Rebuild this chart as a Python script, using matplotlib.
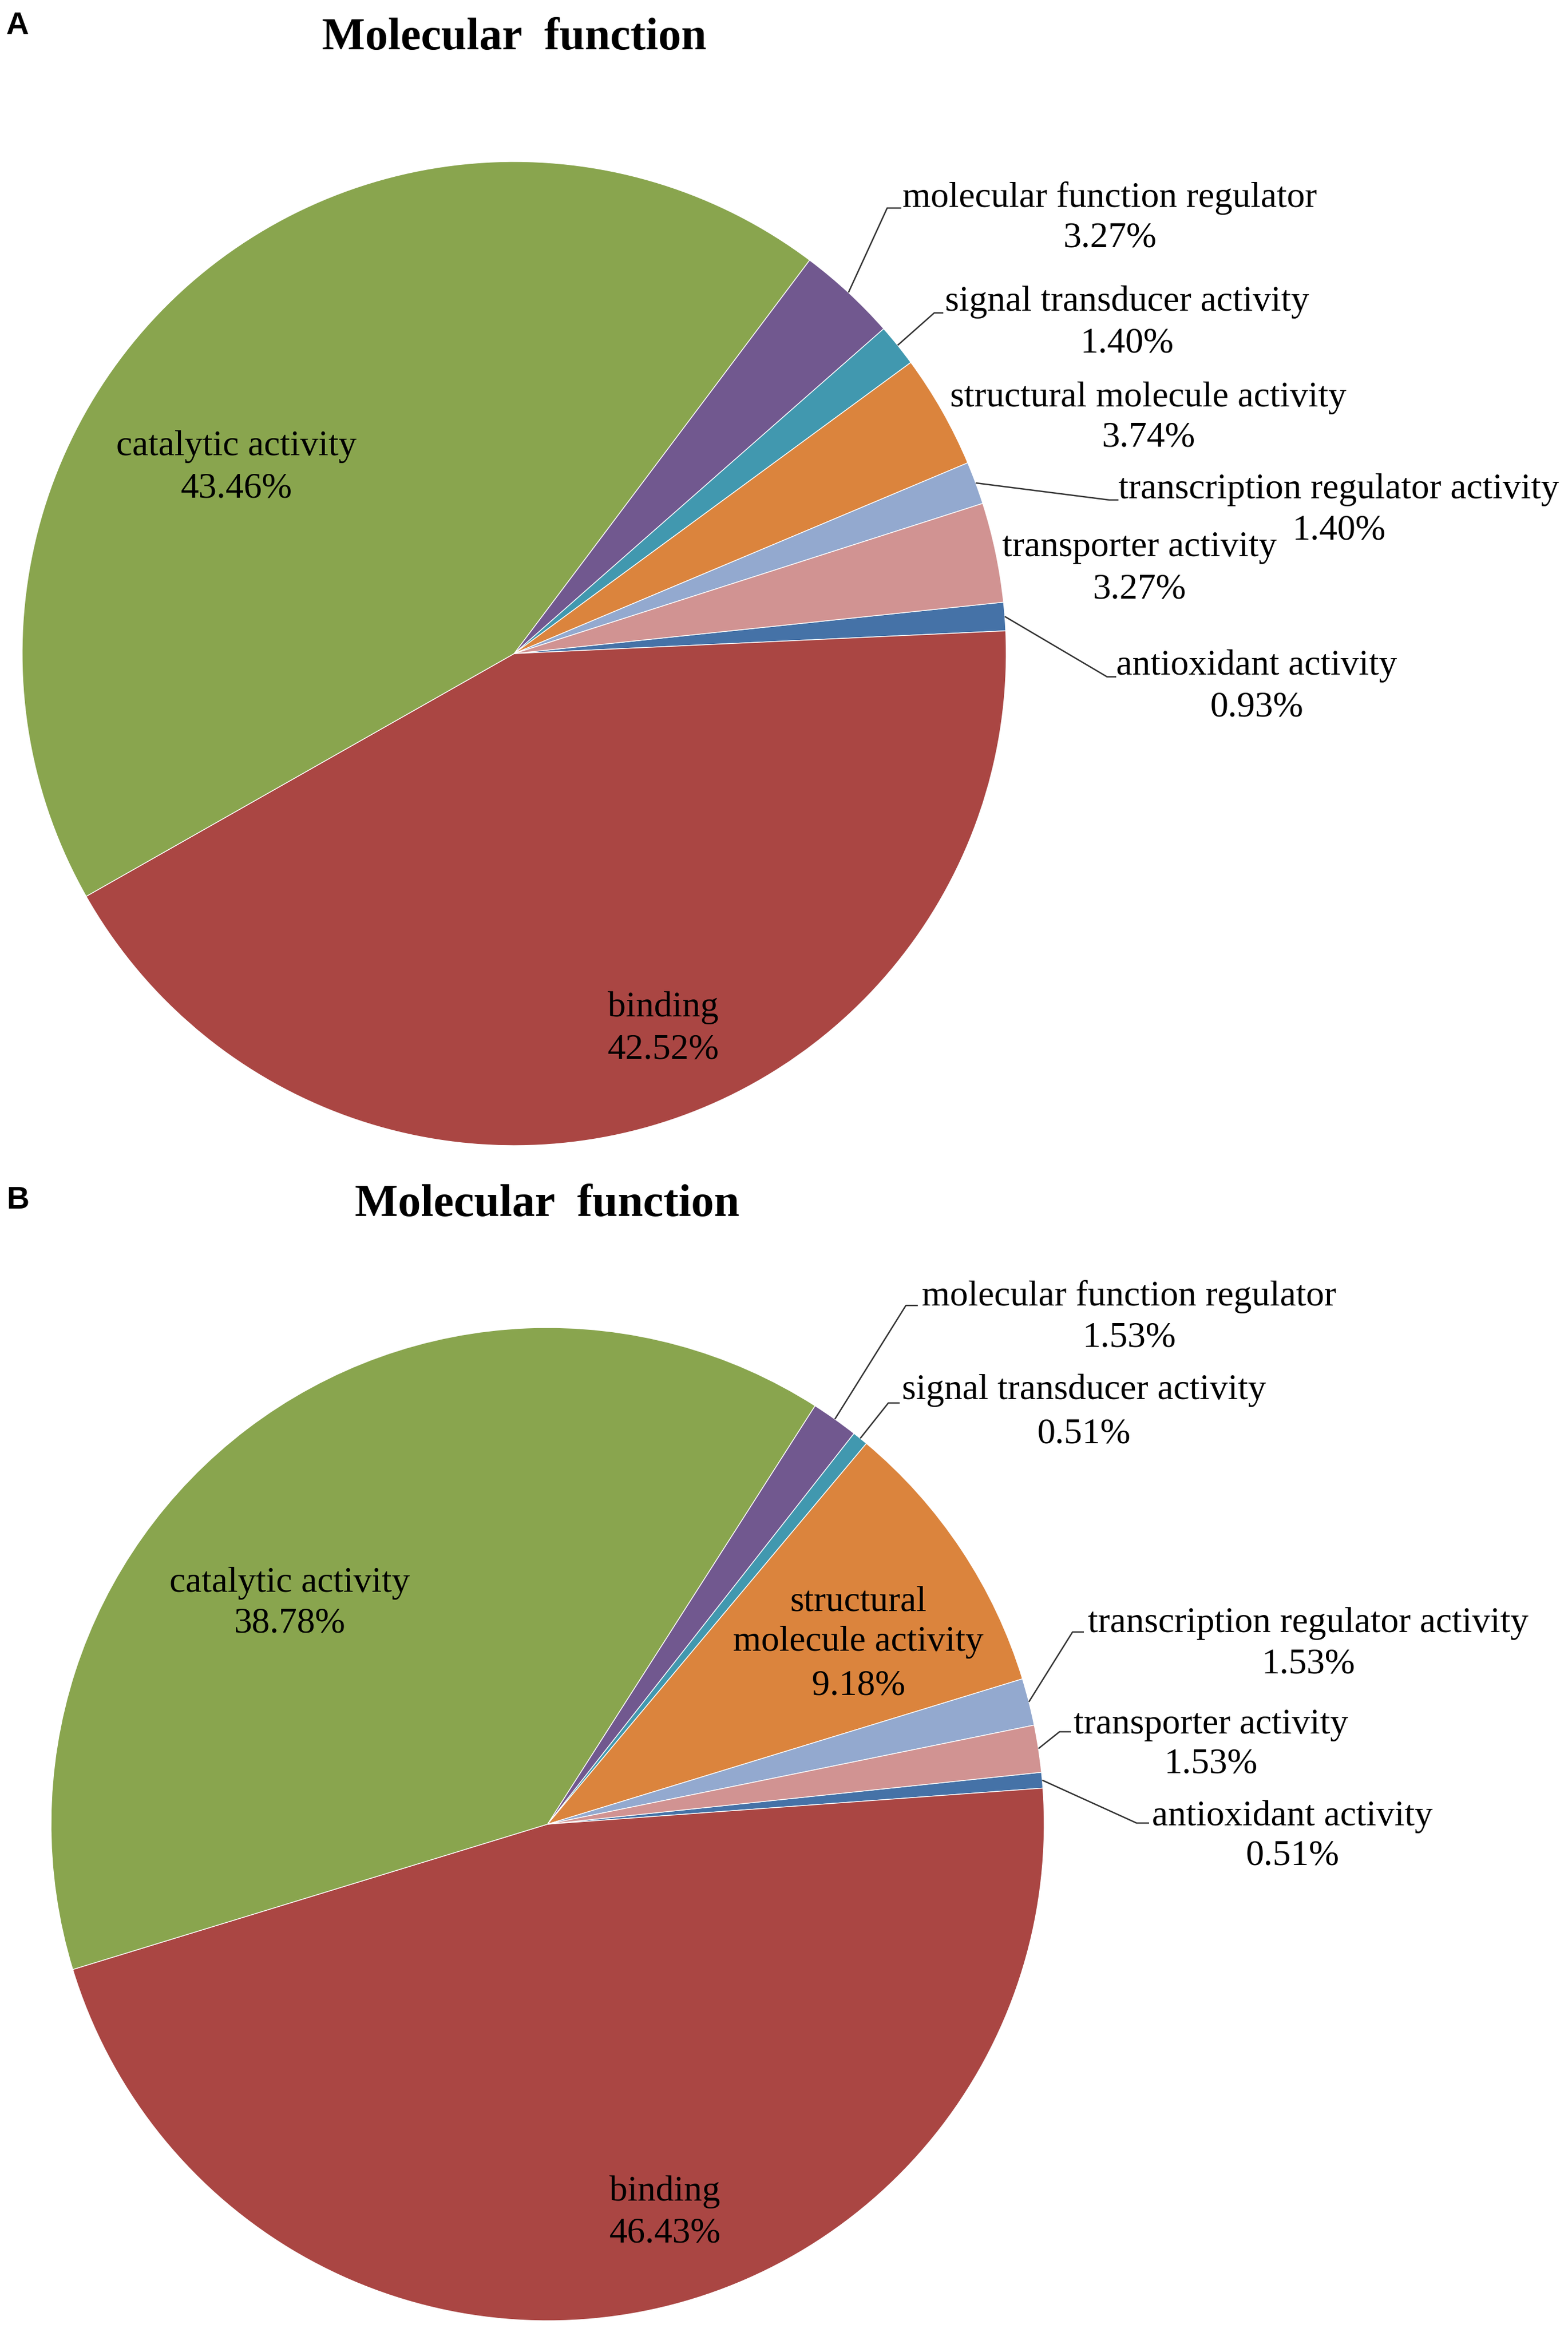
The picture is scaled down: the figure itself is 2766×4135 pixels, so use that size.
import matplotlib
matplotlib.use("Agg")
import matplotlib.pyplot as plt
import numpy as np

W, H = 2766, 4135

# ---------------- data ----------------
categories = ["antioxidant activity", "binding", "catalytic activity",
              "molecular function regulator", "signal transducer activity",
              "structural molecule activity", "transcription regulator activity",
              "transporter activity"]
values_A = [0.93, 42.52, 43.46, 3.27, 1.40, 3.74, 1.40, 3.27]
values_B = [0.51, 46.43, 38.78, 1.53, 0.51, 9.18, 1.53, 1.53]
colors = ["#4572A7", "#AA4643", "#89A54E", "#71588F",
          "#4198AF", "#DB843D", "#93A9CF", "#D19392"]
title = "Molecular  function"
panel_letters = ["A", "B"]

# ---------------- layout (image pixel coords, y down) ----------------
pie_A = dict(center=(907, 1153), radius=868)
pie_B = dict(center=(966, 3218), radius=876)
start_angle = 6.0

labels_A = {
    0: (2217, [1190, 1264]),
    1: (1170, [1793, 1867]),
    2: (417, [803, 877]),
    3: (1958, [365, 436]),
    4: (1988, [548, 622]),
    5: (2026, [717, 787]),
    6: (2362, [879, 952]),
    7: (2010, [981, 1055]),
}
leaders_A = {  # elbow, end
    3: ((1565, 367), (1590, 367)),
    4: ((1648, 552), (1664, 552)),
    6: ((1957, 882), (1973, 882)),
    0: ((1953, 1194), (1969, 1194)),
}
labels_B = {
    0: (2280, [3220, 3290]),
    1: (1173, [3882, 3955]),
    2: (511, [2808, 2879]),
    3: (1992, [2303, 2376]),
    4: (1912, [2468, 2545]),
    5: (1514, [2842, 2912, 2989]),
    6: (2308, [2879, 2952]),
    7: (2136, [3058, 3128]),
}
split_B = {5: ["structural", "molecule activity"]}
leaders_B = {
    3: ((1598, 2303), (1619, 2303)),
    4: ((1567, 2475), (1587, 2475)),
    6: ((1892, 2879), (1912, 2879)),
    7: ((1869, 3055), (1889, 3055)),
    0: ((2005, 3216), (2027, 3216)),
}
title_pos = [(907, 87), (965, 2145)]
letter_pos = [(11, 60), (11, 2132)]

SERIF = ["Liberation Serif", "DejaVu Serif"]
SANS = ["Liberation Sans", "DejaVu Sans"]
LABEL_FS = 46
TITLE_FS = 58
LETTER_FS = 40


def Y(y):
    return H - y


fig = plt.figure(figsize=(W / 100, H / 100), dpi=100)
ax = fig.add_axes([0, 0, 1, 1])
ax.set_axis_off()


def draw_panel(values, pie, labels, leaders, split=None):
    split = split or {}
    cx, cy = pie["center"]
    r = pie["radius"]
    wedges, _ = ax.pie(values, colors=colors, startangle=start_angle,
                       counterclock=False, center=(cx, Y(cy)), radius=r,
                       wedgeprops=dict(edgecolor="white", linewidth=1.0))
    for i, (xc, bases) in labels.items():
        lines = split.get(i, [categories[i]]) + [f"{values[i]:.2f}%"]
        for txt, b in zip(lines, bases):
            ax.text(xc, Y(b), txt, ha="center", va="baseline",
                    family=SERIF, fontsize=LABEL_FS, color="black")
    for i, (elbow, end) in leaders.items():
        w = wedges[i]
        mid = np.deg2rad((w.theta1 + w.theta2) / 2)
        sx = cx + r * np.cos(mid)
        sy = Y(cy) + r * np.sin(mid)
        ax.plot([sx, elbow[0], end[0]], [sy, Y(elbow[1]), Y(end[1])],
                color="#333333", lw=1.8, solid_capstyle="butt")


draw_panel(values_A, pie_A, labels_A, leaders_A)
draw_panel(values_B, pie_B, labels_B, leaders_B, split_B)

for (tx, ty) in title_pos:
    ax.text(tx, Y(ty), title, ha="center", va="baseline", family=SERIF,
            fontsize=TITLE_FS, fontweight="bold", color="black")
for letter, (lx, ly) in zip(panel_letters, letter_pos):
    ax.text(lx, Y(ly), letter, ha="left", va="baseline", family=SANS,
            fontsize=LETTER_FS, fontweight="bold", color="black")

ax.set_xlim(0, W)
ax.set_ylim(0, H)
ax.set_aspect("equal")
fig.savefig("out.png", dpi=100, facecolor="white")
